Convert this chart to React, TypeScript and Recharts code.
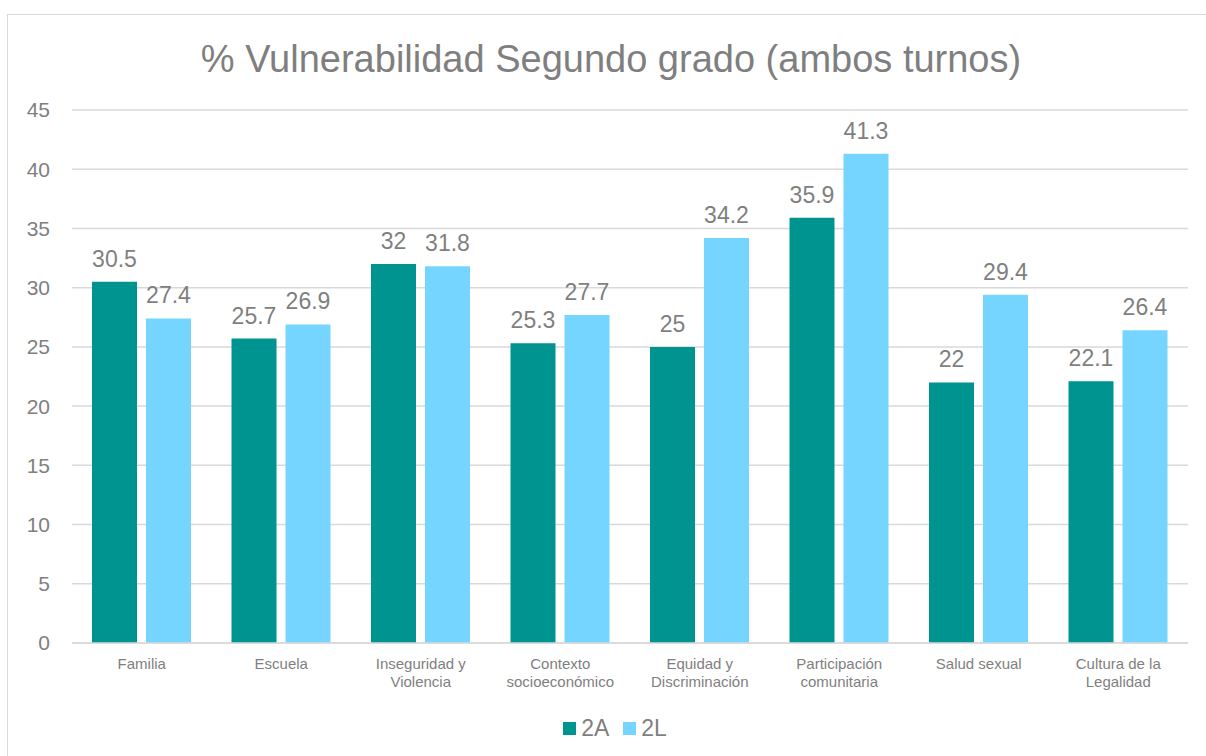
import { Bar, BarChart, CartesianGrid, LabelList, XAxis, YAxis } from "recharts";

const categories = [
  "Familia",
  "Escuela",
  "Inseguridad y\nViolencia",
  "Contexto\nsocioeconómico",
  "Equidad y\nDiscriminación",
  "Participación\ncomunitaria",
  "Salud sexual",
  "Cultura de la\nLegalidad",
];
const values2A = [30.5, 25.7, 32, 25.3, 25, 35.9, 22, 22.1];
const values2L = [27.4, 26.9, 31.8, 27.7, 34.2, 41.3, 29.4, 26.4];
const yTicks = [0, 5, 10, 15, 20, 25, 30, 35, 40, 45];

const series = [
  { key: "a", name: "2A", color: "#009490" },
  { key: "l", name: "2L", color: "#75D5FF" },
];

const FONT = '"Liberation Sans", Arial, sans-serif';
const GRAY = "#7f7f7f";

const data = categories.map((cat, i) => ({ cat, a: values2A[i], l: values2L[i] }));

function CategoryTick({ x, y, payload }: any) {
  const lines = String(payload.value).split("\n");
  return (
    <text x={x} y={y} textAnchor="middle" fill={GRAY} fontSize={15} fontFamily={FONT}>
      {lines.map((line, i) => (
        <tspan key={i} x={x} dy={18}>
          {line}
        </tspan>
      ))}
    </text>
  );
}

export default function App() {
  return (
    <div style={{ position: "absolute", left: 0, top: 0, width: 1206, height: 756, overflow: "hidden", background: "#fff" }}>
      <div style={{ position: "absolute", left: 7, top: 14, width: 1220, height: 760, border: "1px solid #d9d9d9" }} />
      <div
        style={{
          position: "absolute",
          left: 0,
          top: 36,
          width: 1222,
          textAlign: "center",
          fontFamily: FONT,
          fontSize: 38,
          color: GRAY,
          lineHeight: "46px",
        }}
      >
        % Vulnerabilidad Segundo grado (ambos turnos)
      </div>
      <div style={{ position: "absolute", left: 0, top: 0 }}>
        <BarChart
          width={1206}
          height={756}
          data={data}
          margin={{ top: 110, right: 18, left: 0, bottom: 0 }}
          barCategoryGap={20}
          barGap={9}
        >
          <CartesianGrid vertical={false} stroke="#d9d9d9" strokeWidth={1.5} />
          <XAxis
            dataKey="cat"
            interval={0}
            height={113}
            tickLine={false}
            axisLine={{ stroke: "#d9d9d9", strokeWidth: 1.5 }}
            tick={<CategoryTick />}
          />
          <YAxis
            width={72}
            domain={[0, 45]}
            ticks={yTicks}
            axisLine={false}
            tickLine={false}
            tickMargin={16}
            tick={{ fill: GRAY, fontSize: 21, fontFamily: FONT }}
          />
          {series.map((s) => (
            <Bar key={s.key} dataKey={s.key} name={s.name} fill={s.color} isAnimationActive={false}>
              <LabelList dataKey={s.key} position="top" offset={15} fill={GRAY} fontSize={23} fontFamily={FONT} />
            </Bar>
          ))}
        </BarChart>
      </div>
      <div
        style={{
          position: "absolute",
          left: 0,
          top: 713,
          width: 1230,
          display: "flex",
          justifyContent: "center",
          gap: 14,
          fontFamily: FONT,
          fontSize: 23,
          color: GRAY,
          lineHeight: "30px",
        }}
      >
        {series.map((s) => (
          <div key={s.key} style={{ display: "flex", alignItems: "center" }}>
            <span style={{ display: "inline-block", width: 13, height: 13, background: s.color, marginRight: 5 }} />
            <span>{s.name}</span>
          </div>
        ))}
      </div>
    </div>
  );
}
